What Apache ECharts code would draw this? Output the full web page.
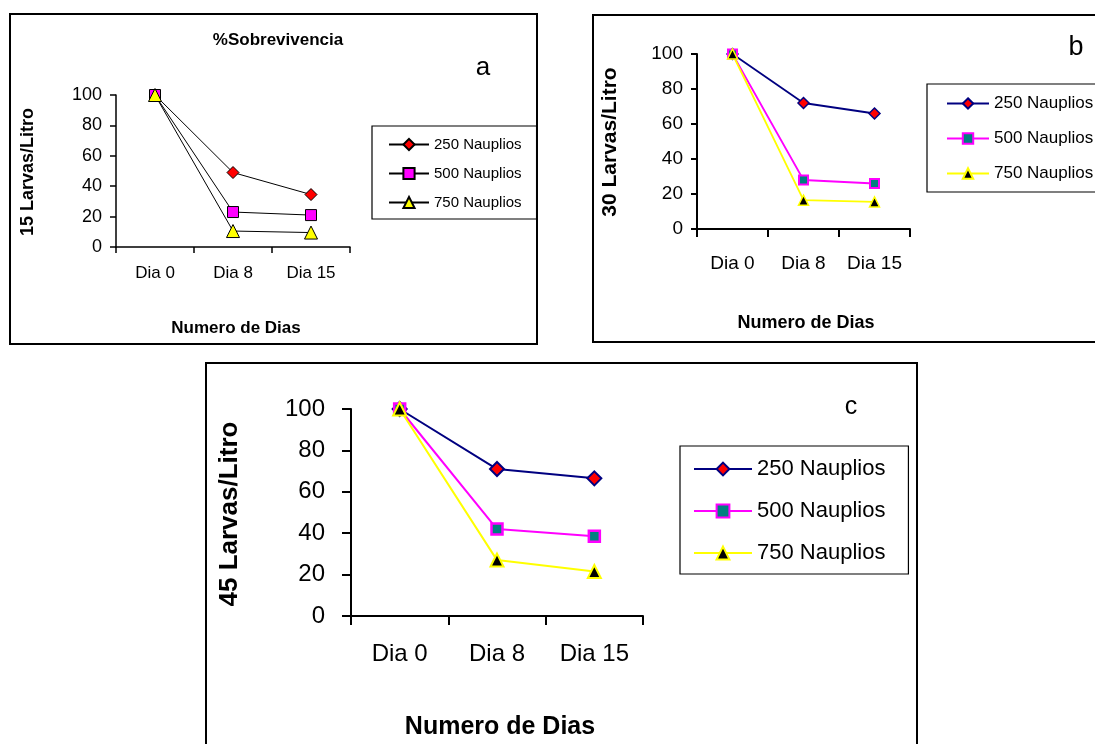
<!DOCTYPE html>
<html><head><meta charset="utf-8">
<script src="https://cdn.jsdelivr.net/npm/echarts@6/dist/echarts.min.js"></script>
<style>html,body{margin:0;padding:0;background:#fff}#c{width:1095px;height:744px}</style>
</head><body><div id="c"></div><script>
// ---- data ----
const categories = ['Dia 0', 'Dia 8', 'Dia 15'];
const seriesNames = ['250 Nauplios', '500 Nauplios', '750 Nauplios'];
const yMin = 0, yMax = 100, yStep = 20;
const a250 = [100, 49, 34.5];
const a500 = [100, 23, 21];
const a750 = [100, 10.5, 9.5];
const b250 = [100, 72, 66];
const b500 = [100, 28, 26];
const b750 = [100, 16.5, 15.5];
const c250 = [100, 71, 66.5];
const c500 = [100, 42, 38.5];
const c750 = [100, 27, 21.5];
const panelTitle = '%Sobrevivencia';
const xName = 'Numero de Dias';
const yNames = ['15 Larvas/Litro', '30 Larvas/Litro', '45 Larvas/Litro'];
const panelLetters = ['a', 'b', 'c'];

const FONT = 'Arial, "Liberation Sans", Helvetica, sans-serif';
const chart = echarts.init(document.getElementById('c'), null, {renderer: 'canvas'});

// unique internal names per panel so each legend picks its own panel's styles
function key(p, i) { return p + '|' + seriesNames[i]; }

function xAx(gi, fs, margin, tickLen, lw) {
  return {type: 'category', gridIndex: gi, data: categories, boundaryGap: true,
    axisLine: {lineStyle: {color: '#000', width: lw}},
    axisTick: {show: true, inside: false, interval: 0, length: tickLen, lineStyle: {color: '#000', width: lw}},
    axisLabel: {color: '#000', fontSize: fs, fontFamily: FONT, margin: margin, interval: 0},
    splitLine: {show: false}};
}
function yAx(gi, fs, margin, tickLen, lw) {
  return {type: 'value', gridIndex: gi, min: yMin, max: yMax, interval: yStep,
    axisLine: {show: true, lineStyle: {color: '#000', width: lw}},
    axisTick: {show: true, inside: false, length: tickLen, lineStyle: {color: '#000', width: lw}},
    axisLabel: {color: '#000', fontSize: fs, fontFamily: FONT, margin: margin},
    splitLine: {show: false}};
}
function ser(gi, name, data, lineColor, lw, symbol, size, fill, border, bw) {
  return {type: 'line', name: name, xAxisIndex: gi, yAxisIndex: gi, data: data,
    symbol: symbol, symbolSize: size, showAllSymbol: true, animation: false,
    lineStyle: {color: lineColor, width: lw},
    itemStyle: {color: fill, borderColor: border, borderWidth: bw, opacity: 1}};
}
function leg(p, left, top, pad, gap, iw, ih, fs) {
  return {show: true, orient: 'vertical', left: left, top: top, padding: pad, itemGap: gap,
    itemWidth: iw, itemHeight: ih, borderColor: '#000', borderWidth: 1.2, backgroundColor: '#fff',
    textStyle: {color: '#000', fontSize: fs, fontFamily: FONT},
    data: [0, 1, 2].map(function (i) { return {name: key(p, i)}; }),
    selectedMode: false,
    formatter: function (n) { return n.split('|')[1]; }};
}

const series = [
  ser(0, key('a', 0), a250, '#000', 1, 'diamond', 12, '#ff0000', '#000', 1),
  ser(0, key('a', 1), a500, '#000', 1, 'rect', 11, '#ff00ff', '#000', 1),
  ser(0, key('a', 2), a750, '#000', 1, 'triangle', 13, '#ffff00', '#000', 1),
  ser(1, key('b', 0), b250, '#000080', 1.8, 'diamond', 11, '#ff0000', '#000080', 1.5),
  ser(1, key('b', 1), b500, '#ff00ff', 1.8, 'rect', 9, '#008080', '#ff00ff', 2),
  ser(1, key('b', 2), b750, '#ffff00', 1.8, 'triangle', 10, '#000000', '#ffff00', 1.5),
  ser(2, key('c', 0), c250, '#000080', 2, 'diamond', 14, '#ff0000', '#000080', 2),
  ser(2, key('c', 1), c500, '#ff00ff', 2, 'rect', 11, '#008080', '#ff00ff', 2.5),
  ser(2, key('c', 2), c750, '#ffff00', 2, 'triangle', 13, '#000000', '#ffff00', 2)
];

function txt(x, y, text, fs, bold, rot) {
  return {type: 'text', x: x, y: y, rotation: rot || 0, z: 10,
    style: {text: text, fill: '#000', font: (bold ? 'bold ' : '') + fs + 'px ' + FONT,
      align: 'center', verticalAlign: 'middle'}};
}
function frame(x, y, w, h) {
  return {type: 'rect', shape: {x: x, y: y, width: w, height: h}, z: -1,
    style: {fill: 'none', stroke: '#000', lineWidth: 2}};
}

const option = {
  backgroundColor: '#fff',
  animation: false,
  grid: [
    {left: 116, top: 95, width: 234, height: 152, containLabel: false},
    {left: 697, top: 54, width: 213, height: 175, containLabel: false},
    {left: 351, top: 409, width: 292, height: 207, containLabel: false}
  ],
  xAxis: [xAx(0, 17, 18, 6, 1.5), xAx(1, 19, 25, 8, 2), xAx(2, 24, 26, 9, 2)],
  yAxis: [yAx(0, 18, 14, 6, 1.5), yAx(1, 19, 14, 6, 2), yAx(2, 24, 26, 9, 2)],
  legend: [
    leg('a', 372, 126, [11, 15, 9, 16], 14, 40, 14, 15),
    leg('b', 927, 84, [11, 20, 10, 19], 18, 42, 13, 17),
    leg('c', 680, 446, [12, 23, 10, 13], 20, 58, 16, 22)
  ],
  series: series,
  graphic: [
    frame(10, 14, 527, 330),
    frame(593, 15, 520, 327),
    frame(206, 363, 711, 400),
    txt(278, 40, panelTitle, 17, true),
    txt(483, 68, panelLetters[0], 26, false),
    txt(1076, 48, panelLetters[1], 27, false),
    txt(851, 407, panelLetters[2], 25, false),
    txt(28, 172, yNames[0], 18, true, Math.PI / 2),
    txt(610, 142, yNames[1], 21, true, Math.PI / 2),
    txt(230, 514, yNames[2], 26, true, Math.PI / 2),
    txt(236, 328, xName, 17, true),
    txt(806, 323, xName, 18, true),
    txt(500, 727, xName, 25, true)
  ]
};
chart.setOption(option);
</script></body></html>
